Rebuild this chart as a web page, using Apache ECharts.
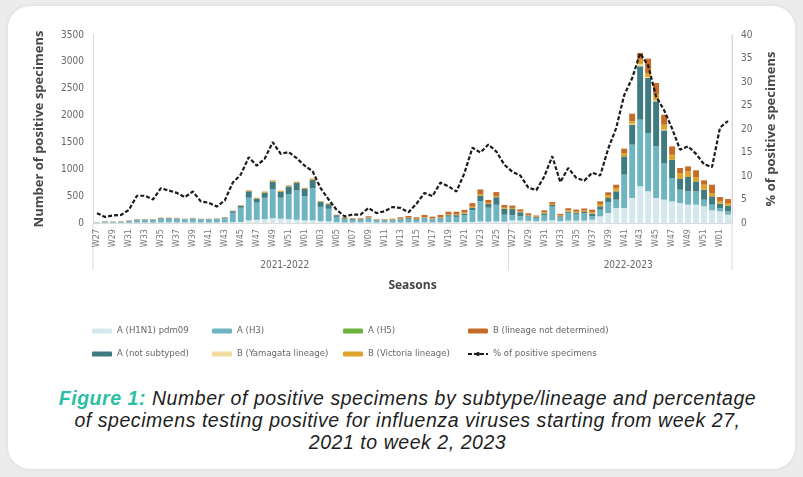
<!DOCTYPE html>
<html>
<head>
<meta charset="utf-8">
<script src="https://cdn.jsdelivr.net/npm/echarts@6/dist/echarts.min.js"></script>
<style>
  html, body { margin: 0; padding: 0; background: #ececec; }
  #card { position: absolute; left: 8px; top: 6px; width: 787px; height: 463px; background: #fff; border-radius: 22px; box-shadow: 0 0 4px rgba(0,0,0,0.08); }
  #chart { position: absolute; left: 0; top: 0; width: 803px; height: 380px; }
  #caption { position: absolute; left: 6px; top: 387px; width: 803px; text-align: center; font-family: 'Liberation Sans', Arial, sans-serif; font-style: italic; font-size: 19.5px; letter-spacing: 0.55px; line-height: 22px; color: #1e1e1e; }
  #caption b { color: #2cbfa2; }
</style>
</head>
<body>
<div id="card"></div>
<div id="chart"></div>
<div id="caption"><b>Figure 1:</b> Number of positive specimens by subtype/lineage and percentage<br>of specimens testing positive for influenza viruses starting from week 27,<br>2021 to week 2, 2023</div>
<script>
const weeks = [
    'W27','W28','W29','W30','W31','W32','W33','W34','W35','W36','W37','W38','W39','W40','W41','W42','W43','W44','W45','W46','W47','W48','W49','W50','W51','W52',
    'W01','W02','W03','W04','W05','W06','W07','W08','W09','W10','W11','W12','W13','W14','W15','W16','W17','W18','W19','W20','W21','W22','W23','W24','W25','W26',
    'W27','W28','W29','W30','W31','W32','W33','W34','W35','W36','W37','W38','W39','W40','W41','W42','W43','W44','W45','W46','W47','W48','W49','W50','W51','W52',
    'W01','W02'
];
const seasons = ['2021-2022', '2022-2023'];

const h1n1 = [
    5, 5, 5, 5, 5, 8, 8, 8, 10, 10, 10, 10, 10, 8, 8, 10, 10, 15, 20, 50, 60, 70, 90, 80, 70, 60,
    50, 50, 35, 30, 15, 10, 10, 10, 15, 8, 8, 8, 10, 10, 10, 12, 10, 12, 15, 15, 15, 20, 30, 25, 30, 25,
    50, 45, 40, 35, 40, 50, 35, 45, 45, 45, 62, 124, 186, 279, 279, 466, 683, 590, 466, 434, 403, 372, 341, 341, 310, 236,
    217, 155
];
const h3 = [
    5, 20, 18, 20, 35, 55, 55, 55, 75, 75, 70, 58, 70, 60, 60, 62, 82, 175, 265, 420, 320, 400, 540, 390, 470, 550,
    450, 600, 265, 235, 100, 65, 50, 50, 70, 40, 40, 42, 55, 65, 50, 75, 58, 72, 105, 100, 130, 220, 380, 260, 310, 130,
    100, 85, 80, 60, 110, 255, 70, 145, 125, 135, 62, 124, 198, 155, 621, 993, 1241, 1086, 962, 683, 434, 248, 248, 248, 124, 105,
    62, 62
];
const h5 = new Array(80).fill(0);
const notSubtyped = [
    2, 3, 2, 3, 3, 5, 5, 5, 8, 8, 8, 6, 8, 6, 6, 7, 10, 30, 35, 120, 75, 95, 140, 110, 140, 140,
    135, 155, 90, 85, 30, 15, 15, 12, 15, 10, 8, 10, 12, 15, 12, 15, 12, 18, 25, 30, 30, 40, 100, 70, 140, 110,
    110, 70, 20, 15, 30, 30, 20, 20, 20, 25, 50, 62, 81, 155, 341, 372, 993, 1024, 838, 608, 341, 199, 267, 186, 186, 155,
    81, 105
];
const yamagata = [
    3, 0, 0, 0, 0, 0, 0, 0, 0, 0, 0, 0, 0, 0, 0, 0, 0, 0, 0, 0, 0, 0, 0, 0, 0, 0,
    0, 0, 0, 0, 0, 0, 0, 0, 0, 0, 0, 0, 0, 0, 0, 0, 0, 0, 0, 0, 0, 0, 0, 0, 0, 0,
    0, 0, 0, 0, 0, 0, 0, 0, 0, 0, 0, 0, 0, 0, 0, 15, 40, 20, 20, 15, 0, 0, 0, 0, 0, 0,
    0, 0
];
const victoria = [
    5, 5, 4, 5, 5, 5, 5, 5, 5, 5, 5, 4, 5, 4, 4, 4, 6, 8, 8, 15, 12, 15, 20, 15, 15, 15,
    15, 20, 10, 10, 5, 5, 3, 4, 5, 3, 4, 5, 6, 8, 8, 10, 8, 10, 15, 15, 20, 25, 30, 20, 25, 20,
    20, 15, 10, 10, 20, 20, 15, 25, 20, 25, 25, 43, 50, 62, 62, 47, 85, 73, 104, 90, 93, 112, 105, 81, 93, 62,
    43, 50
];
const bUndetermined = [
    0, 2, 1, 2, 2, 2, 2, 2, 2, 2, 2, 2, 2, 2, 2, 2, 2, 2, 2, 5, 3, 5, 5, 5, 5, 5,
    5, 5, 5, 5, 5, 11, 10, 12, 20, 9, 10, 15, 23, 32, 26, 38, 30, 38, 50, 50, 50, 65, 85, 55, 70, 50,
    45, 40, 30, 20, 35, 35, 30, 40, 40, 40, 50, 50, 56, 62, 81, 143, 124, 267, 217, 186, 155, 93, 93, 124, 81, 155,
    81, 74
];
const pctPositive = [
    2.1, 1.3, 1.6, 1.7, 2.8, 5.8, 5.8, 5.0, 7.4, 6.9, 6.4, 5.5, 6.7, 4.6, 4.3, 3.5, 4.8, 8.6, 10.3, 14.0, 12.2, 13.7, 17.2, 14.7, 15.1, 13.8,
    12.2, 11.0, 7.4, 5.0, 2.8, 1.4, 1.8, 1.8, 3.2, 2.1, 2.5, 3.4, 3.2, 2.3, 4.1, 6.4, 5.7, 8.6, 7.8, 6.7, 10.6, 16.0, 15.0, 16.7, 15.2, 12.4,
    10.9, 10.1, 7.5, 7.0, 9.9, 14.2, 8.7, 11.7, 9.6, 9.0, 10.7, 10.1, 15.8, 20.2, 27.2, 30.8, 36.1, 33.5, 26.9, 24.0, 20.1, 15.6, 16.3, 14.7, 12.5, 11.9,
    20.3, 21.7
];

const narrow = "'Liberation Sans Narrow', 'DejaVu Sans Condensed', 'Roboto', sans-serif";
const gridLeft = 93, gridRight = 71, gridTop = 35, gridBottom = 157;

const chart = echarts.init(document.getElementById('chart'));

function bar(name, data, color) {
    return {
        name: name,
        type: 'bar',
        stack: 'total',
        data: data,
        barWidth: '74%',
        itemStyle: { color: color },
        emphasis: { disabled: true }
    };
}

const legendText = { color: '#666', fontSize: 9.5, fontFamily: narrow, lineHeight: 12 };
function legendCol(left, names) {
    return {
        orient: 'vertical',
        left: left,
        top: 320,
        itemGap: 11,
        itemWidth: 20,
        itemHeight: 5,
        data: names,
        textStyle: legendText
    };
}

const option = {
    animation: false,
    grid: { left: gridLeft, right: gridRight, top: gridTop, bottom: gridBottom },
    legend: [
        legendCol(87, ['A (H1N1) pdm09', 'A (not subtyped)']),
        legendCol(207, ['A (H3)', 'B (Yamagata lineage)']),
        legendCol(338, ['A (H5)', 'B (Victoria lineage)']),
        legendCol(462, ['B (lineage not determined)', '% of positive specimens'])
    ],
    xAxis: {
        type: 'category',
        data: weeks,
        axisLine: { lineStyle: { color: '#dcdcdc' } },
        axisTick: { show: false },
        axisLabel: { interval: 1, rotate: 90, fontSize: 9, color: '#777', margin: 6, fontFamily: narrow },
        name: 'Seasons',
        nameLocation: 'middle',
        nameGap: 57,
        nameTextStyle: { fontSize: 12, fontWeight: 'bold', color: '#444', fontFamily: "'Open Sans', sans-serif" }
    },
    yAxis: [
        {
            type: 'value',
            min: 0,
            max: 3500,
            interval: 500,
            splitLine: { show: false },
            axisLine: { show: true, lineStyle: { color: '#d8d8d8' } },
            axisTick: { show: false },
            axisLabel: { fontSize: 10, color: '#666', margin: 9, fontFamily: narrow, formatter: (v) => String(v) },
            name: 'Number of positive specimens',
            nameLocation: 'middle',
            nameGap: 47,
            nameTextStyle: { fontSize: 13, fontWeight: 'bold', color: '#4a4a4a', fontFamily: "'Open Sans', sans-serif" }
        },
        {
            type: 'value',
            min: 0,
            max: 40,
            interval: 5,
            splitLine: { show: false },
            axisLine: { show: true, lineStyle: { color: '#d8d8d8' } },
            axisTick: { show: false },
            axisLabel: { fontSize: 10, color: '#666', margin: 9, fontFamily: narrow },
            name: '% of positive specimens',
            nameLocation: 'middle',
            nameGap: 33,
            nameTextStyle: { fontSize: 13, fontWeight: 'bold', color: '#4a4a4a', fontFamily: "'Open Sans', sans-serif" }
        }
    ],
    series: [
        bar('A (H1N1) pdm09', h1n1, '#d5e8ee'),
        bar('A (H3)', h3, '#6fb4c3'),
        bar('A (not subtyped)', notSubtyped, '#3f7b80'),
        bar('A (H5)', h5, '#6cb23c'),
        bar('B (Yamagata lineage)', yamagata, '#f1dd9f'),
        bar('B (Victoria lineage)', victoria, '#dfa22a'),
        bar('B (lineage not determined)', bUndetermined, '#c46c28'),
        {
            name: '% of positive specimens',
            type: 'line',
            yAxisIndex: 1,
            data: pctPositive,
            symbol: 'none',
            lineStyle: { color: '#1c1c1c', width: 2.2, type: [4, 2] },
            itemStyle: { color: '#1c1c1c' },
            z: 5
        }
    ]
};

chart.setOption(option);

// separators and season labels below the axis
const x0 = chart.convertToPixel({ xAxisIndex: 0 }, 0);
const xStep = chart.convertToPixel({ xAxisIndex: 0 }, 1) - x0;
const yZero = chart.convertToPixel({ yAxisIndex: 0 }, 0);
const yTop = chart.convertToPixel({ yAxisIndex: 0 }, 3500);
const xLeft = x0 - xStep / 2;
const xRight = chart.convertToPixel({ xAxisIndex: 0 }, weeks.length - 1) + xStep / 2;
const xSplit = (chart.convertToPixel({ xAxisIndex: 0 }, 51) + chart.convertToPixel({ xAxisIndex: 0 }, 52)) / 2;
const yLow = yZero + 47;
const lineStyle = { stroke: '#d8d8d8', lineWidth: 1 };

chart.setOption({
    graphic: [
        { type: 'line', shape: { x1: xLeft, y1: yZero, x2: xLeft, y2: yLow }, style: lineStyle, silent: true },
        { type: 'line', shape: { x1: xSplit, y1: yZero, x2: xSplit, y2: yLow }, style: lineStyle, silent: true },
        { type: 'line', shape: { x1: xRight, y1: yTop, x2: xRight, y2: yLow }, style: lineStyle, silent: true },
        {
            type: 'text',
            x: chart.convertToPixel({ xAxisIndex: 0 }, 23) + xStep / 2,
            y: yZero + 42,
            style: { text: seasons[0], fontSize: 10, fill: '#666', fontFamily: narrow, align: 'center', verticalAlign: 'middle' },
            silent: true
        },
        {
            type: 'text',
            x: chart.convertToPixel({ xAxisIndex: 0 }, 66) + xStep / 2,
            y: yZero + 42,
            style: { text: seasons[1], fontSize: 10, fill: '#666', fontFamily: narrow, align: 'center', verticalAlign: 'middle' },
            silent: true
        }
    ]
});
</script>
</body>
</html>
